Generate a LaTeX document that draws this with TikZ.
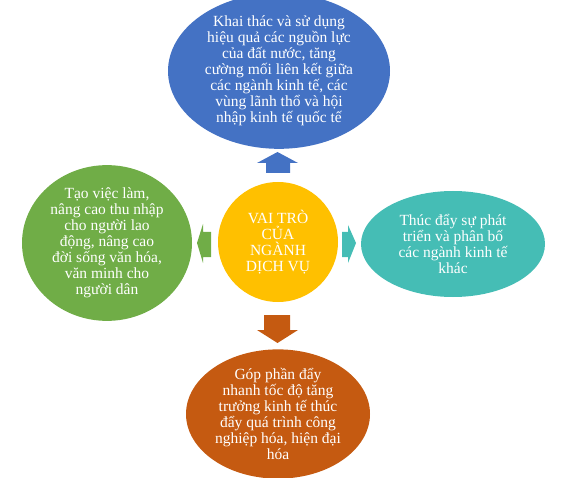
\documentclass[tikz,border=0pt]{standalone}
\usepackage{fontspec}
\setmainfont{Liberation Serif}
\usepackage{xcolor}
\usetikzlibrary{shapes,shapes.geometric,positioning}

\definecolor{cblue}{HTML}{4472C4}
\definecolor{cgreen}{HTML}{70AD47}
\definecolor{cgold}{HTML}{FFC000}
\definecolor{cteal}{HTML}{45BDB5}
\definecolor{cbrown}{HTML}{C55A11}

\begin{document}
\begin{tikzpicture}[x=1pt, y=1pt,
    role/.style={ellipse, inner sep=0pt, text=white, align=center, font=\fontsize{15.5}{16}\selectfont},
    core/.style={circle, fill=cgold, inner sep=0pt, minimum size=120pt, text=white, align=center, font=\fontsize{15.5}{16}\selectfont}]

  \useasboundingbox (0,0) rectangle (567,477);

  \node[core] (R0) at (278,235) {VAI TRÒ\\CỦA\\NGÀNH\\DỊCH VỤ};

  \node[role, fill=cblue, minimum width=222pt, minimum height=138pt] (R1) at (279,406)
    {Khai thác và sử dụng\\hiệu quả các nguồn lực\\của đất nước, tăng\\cường mối liên kết giữa\\các ngành kinh tế, các\\vùng lãnh thổ và hội\\nhập kinh tế quốc tế};
  \node[role, fill=cgreen, minimum width=170pt, minimum height=130pt] (R2) at (107,234)
    {Tạo việc làm,\\nâng cao thu nhập\\cho người lao\\động, nâng cao\\đời sống văn hóa,\\văn minh cho\\người dân};
  \node[role, fill=cteal, minimum width=184pt, minimum height=106pt] (R3) at (453,233)
    {Thúc đẩy sự phát\\triển và phân bố\\các ngành kinh tế\\khác};
  \node[role, fill=cbrown, minimum width=184pt, minimum height=116pt] (R4) at (278,63)
    {Góp phần đẩy\\nhanh tốc độ tăng\\trưởng kinh tế thúc\\đẩy quá trình công\\nghiệp hóa, hiện đại\\hóa};

  % block arrows from the core
  \fill[cblue] (266,304) -- (266,314) -- (257,314) -- (277.5,325) -- (298,314) -- (290,314) -- (290,304) -- cycle;
  \fill[cbrown] (264,162) -- (264,147) -- (257,147) -- (277.5,134) -- (298,147) -- (290,147) -- (290,162) -- cycle;
  \fill[cgreen] (211,220) -- (203,220) -- (203,214) -- (197,234) -- (203,253) -- (203,245) -- (211,245) -- cycle;
  \fill[cteal] (342,220) -- (348,220) -- (348,214) -- (356,234) -- (348,252) -- (348,245) -- (342,245) -- cycle;
\end{tikzpicture}
\end{document}
